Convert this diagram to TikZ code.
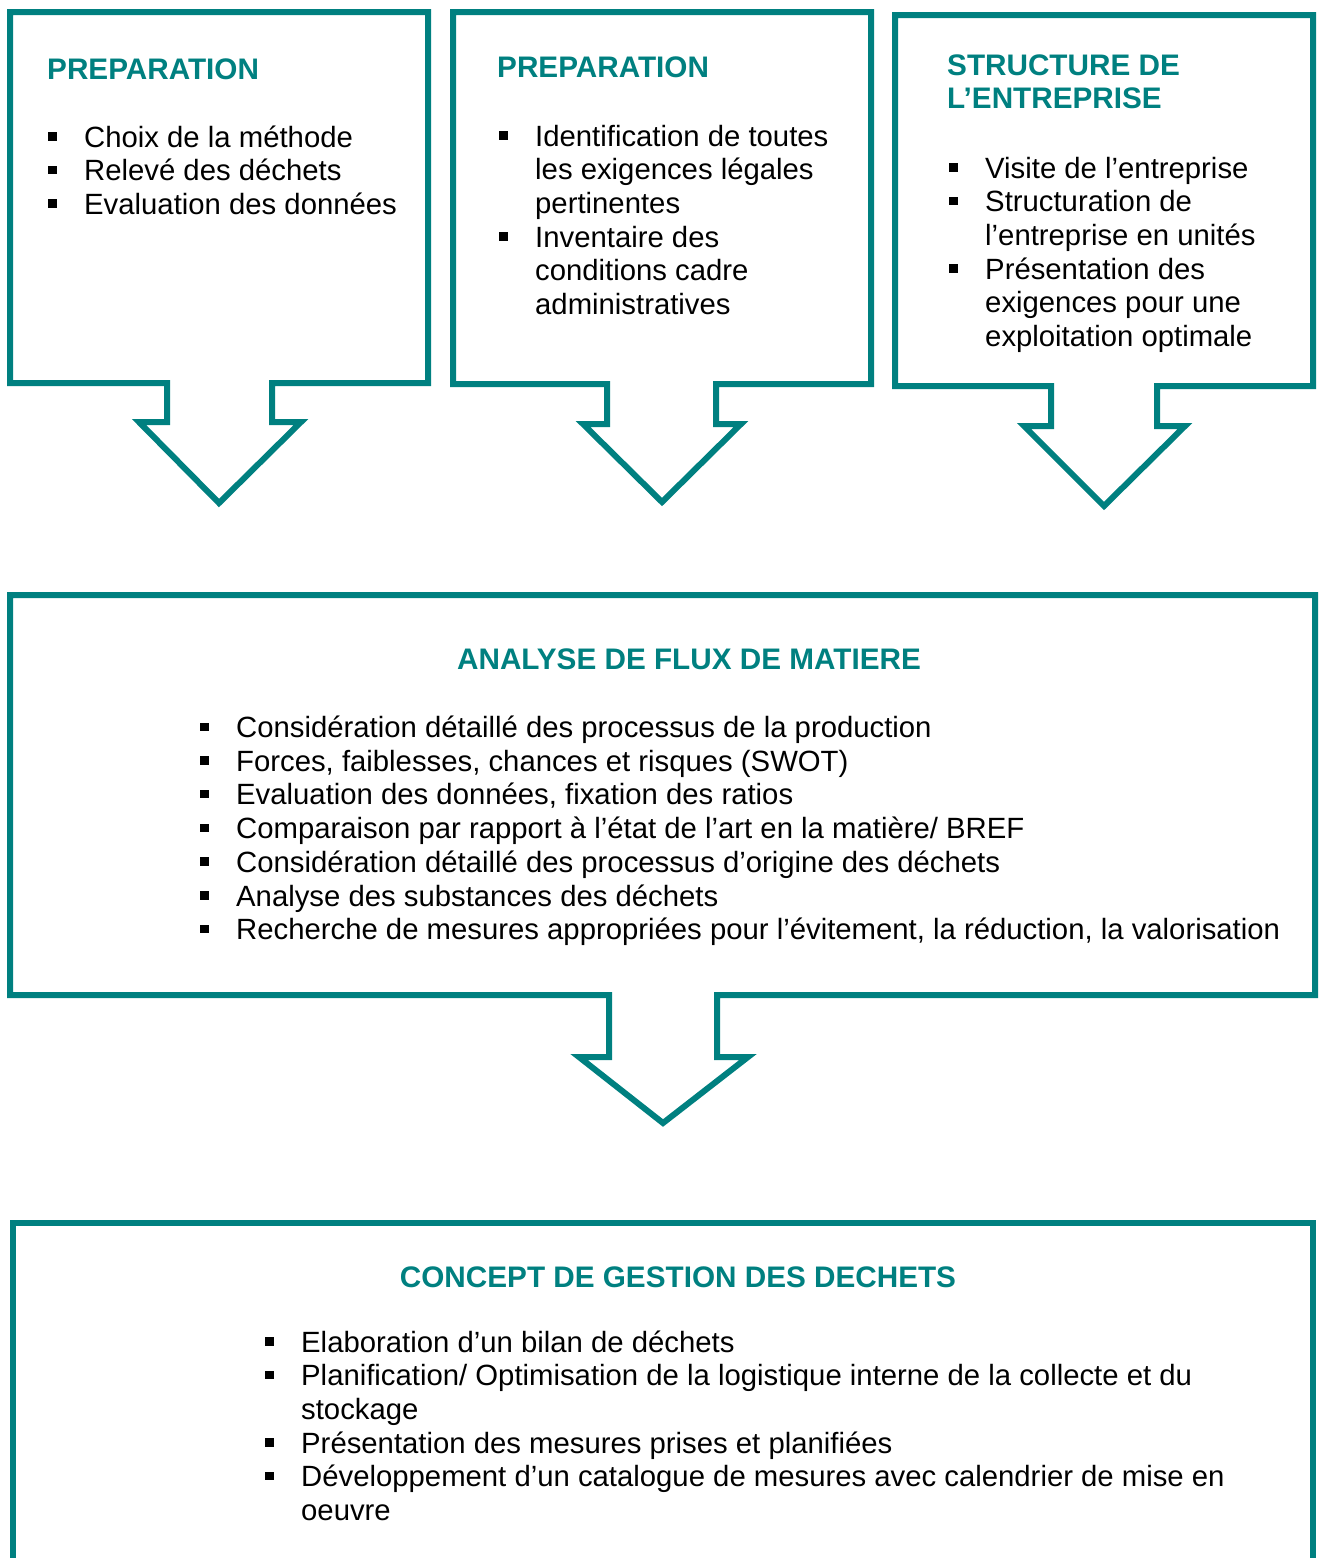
\documentclass[tikz,border=0pt]{standalone}
\usepackage{fontspec}
\setmainfont{Liberation Sans}
\definecolor{boxteal}{RGB}{0,128,128}
\newcommand{\bul}{\makebox[36pt][l]{\raisebox{6.5pt}{\rule{8.5pt}{8.5pt}}}}
\newcommand{\cont}{\hspace*{36pt}}
\begin{document}
\begin{tikzpicture}[x=1pt,y=-1pt,
  callout/.style={draw=boxteal, line width=6pt, line join=miter, miter limit=20},
  title/.style={font=\bfseries\fontsize{29.7}{33}\selectfont, text=boxteal, inner sep=0pt, anchor=base west, align=left},
  items/.style={font=\fontsize{29.3}{33.7}\selectfont, inner sep=0pt, anchor=base west, align=left}]
\useasboundingbox (0,0) rectangle (1319,1558);
% callout 1
\draw[callout] (10,12) -- (428,12) -- (428,383) -- (272,383) -- (272,422) -- (301,422)
  -- (219,503) -- (139,422) -- (167,422) -- (167,383) -- (10,383) -- cycle;
% callout 2
\draw[callout] (453,12) -- (871,12) -- (871,384) -- (716,384) -- (716,424) -- (741,424)
  -- (662,502) -- (583,424) -- (607,424) -- (607,384) -- (453,384) -- cycle;
% callout 3
\draw[callout] (895,15) -- (1313,15) -- (1313,386) -- (1157,386) -- (1157,426) -- (1185,426)
  -- (1104,506) -- (1024,426) -- (1051,426) -- (1051,386) -- (895,386) -- cycle;
% callout 4
\draw[callout] (10,595) -- (1315,595) -- (1315,995) -- (717,995) -- (717,1057) -- (748,1057)
  -- (663,1123) -- (579,1057) -- (609,1057) -- (609,995) -- (10,995) -- cycle;
% box 5 (open at bottom)
\draw[callout] (13,1558) -- (13,1223) -- (1313,1223) -- (1313,1558);

% anchors are at the baseline of the last line of each node
\node[title] (t1) at (47,79) {PREPARATION};
\node[items] (i1) at (48,214.4) {\bul Choix de la méthode\\
\bul Relevé des déchets\\
\bul Evaluation des données};

\node[title] (t2) at (497,77) {PREPARATION};
\node[items] (i2) at (499,314.5) {\bul Identification de toutes\\
\cont les exigences légales\\
\cont pertinentes\\
\bul Inventaire des\\
\cont conditions cadre\\
\cont administratives};

\node[title] (t3) at (947,108) {STRUCTURE DE\\L’ENTREPRISE};
\node[items] (i3) at (949,346.5) {\bul Visite de l’entreprise\\
\bul Structuration de\\
\cont l’entreprise en unités\\
\bul Présentation des\\
\cont exigences pour une\\
\cont exploitation optimale};

\node[title, anchor=base] (t4) at (689,669) {ANALYSE DE FLUX DE MATIERE};
\node[items] (i4) at (200,939.7) {\bul Considération détaillé des processus de la production\\
\bul Forces, faiblesses, chances et risques (SWOT)\\
\bul Evaluation des données, fixation des ratios\\
\bul Comparaison par rapport à l’état de l’art en la matière/ BREF\\
\bul Considération détaillé des processus d’origine des déchets\\
\bul Analyse des substances des déchets\\
\bul Recherche de mesures appropriées pour l’évitement, la réduction, la valorisation};

\node[title, anchor=base] (t5) at (678,1287) {CONCEPT DE GESTION DES DECHETS};
\node[items] (i5) at (265,1520.5) {\bul Elaboration d’un bilan de déchets\\
\bul Planification/ Optimisation de la logistique interne de la collecte et du\\
\cont stockage\\
\bul Présentation des mesures prises et planifiées\\
\bul Développement d’un catalogue de mesures avec calendrier de mise en\\
\cont oeuvre};
\end{tikzpicture}
\end{document}
